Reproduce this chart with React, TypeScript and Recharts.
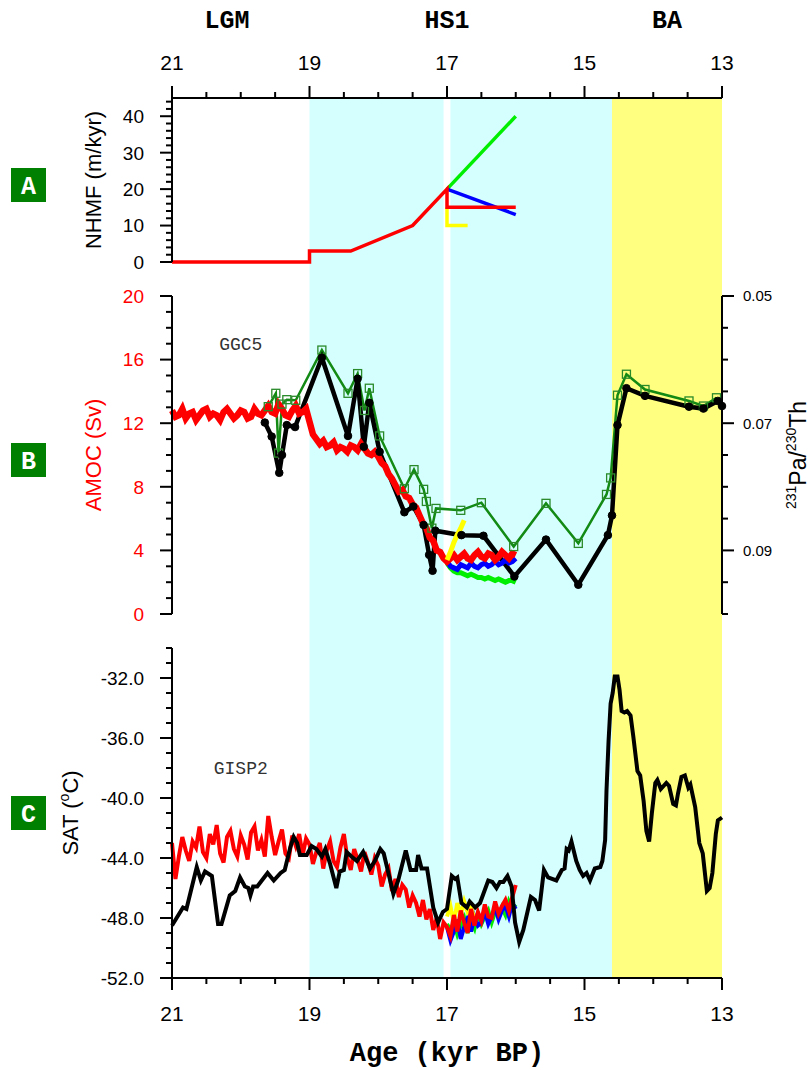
import React from 'react'
import { ComposedChart, Line, XAxis, YAxis, ReferenceArea, ReferenceDot } from 'recharts'

// age axis (kyr BP), shared by all panels
const ageTicks = [21, 19, 17, 15, 13]
const periodNames = ['LGM', 'HS1', 'BA']
const periodCenters = [20.2, 17.0, 13.8]
const bandStart = [19, 16.95, 14.6]
const bandEnd = [17.05, 14.6, 13]

// A: NH meltwater forcing (m/kyr)
const nhmfTicks = [0, 10, 20, 30, 40]
const nhmfRedAge = [21, 19, 19, 18.4, 17.5, 17, 17, 16]
const nhmfRed = [0, 0, 3, 3, 10, 20, 15, 15]
const nhmfGreenAge = [17, 16]
const nhmfGreen = [20, 40]
const nhmfBlueAge = [17, 16]
const nhmfBlue = [20, 13]
const nhmfYellowAge = [17, 17, 16.7]
const nhmfYellow = [15, 10, 10]

// B: AMOC (Sv), model output every 0.05 kyr
const amocTicks = [0, 4, 8, 12, 16, 20]
const amocRed = [
  12.8, 12.4, 12.5, 12.9, 12.3, 12.6, 12.7, 12.2, 12.5, 12.8,
  12.9, 12.4, 12.6, 12.5, 12.2, 12.7, 12.9, 12.6, 12.3, 12.5,
  12.8, 12.7, 12.3, 12.4, 12.9, 12.6, 12.5, 12.8, 13.1, 12.7,
  12.6, 13.2, 12.9, 12.5, 12.4, 12.8, 13.1, 12.6, 12.7, 12.9,
  12.1, 11.3, 11.0, 10.7, 10.9, 10.5, 10.6, 10.8, 10.3, 10.5,
  10.4, 10.2, 10.6, 10.5, 10.3, 10.7, 10.4, 10.1, 10.0, 10.2,
  9.9, 9.5, 9.3, 8.8, 8.5, 8.1, 7.7, 7.8, 7.4, 7.3,
  6.9, 6.7, 6.2, 5.7, 5.4, 4.8, 4.6, 4.0, 3.9, 3.5,
  3.3, 3.5, 3.7, 3.4, 3.6, 3.8, 3.5, 3.4, 3.7, 3.9,
  3.6, 3.5, 3.8, 3.7, 3.4, 3.6, 3.9, 3.7, 3.5, 3.8, 3.7,
]
const amocBlue = [3.3, 3.0, 2.9, 2.8, 3.1, 3.0, 2.9, 3.2, 3.0, 2.9, 3.1, 3.2, 3.0, 3.1, 3.3, 3.1, 3.2, 3.4, 3.2, 3.3, 3.5]
const amocGreen = [3.2, 2.9, 2.7, 2.6, 2.6, 2.5, 2.4, 2.5, 2.4, 2.3, 2.3, 2.2, 2.3, 2.2, 2.1, 2.2, 2.1, 2.0, 2.1, 2.1, 2.0]
const amocYellow = [3.4, 3.9, 4.5, 5.0, 5.4, 5.9]

// B: GGC5 231Pa/230Th
const pathTicks = [0.05, 0.07, 0.09]
const ggc5BlackAge = [
  19.65, 19.55, 19.44, 19.4, 19.33, 19.21, 18.82, 18.44, 18.3, 18.21, 18.13, 17.98,
  17.62, 17.49, 17.34, 17.26, 17.21, 17.17, 16.79, 16.47, 16.02, 15.56, 15.09, 14.66,
  14.6, 14.52, 14.39, 14.12, 13.48, 13.27, 13.06, 13.0,
]
const ggc5Black = [
  0.0699, 0.0721, 0.0778, 0.075, 0.0703, 0.0706, 0.0597, 0.072, 0.063, 0.0737, 0.0668, 0.0745,
  0.084, 0.0831, 0.086, 0.0907, 0.0932, 0.0869, 0.0876, 0.0877, 0.0941, 0.0883, 0.0954, 0.0876,
  0.0845, 0.0703, 0.0645, 0.0657, 0.0674, 0.0677, 0.0665, 0.0673,
]
const ggc5GreenAge = [
  19.6, 19.49, 19.45, 19.4, 19.33, 19.2, 18.82, 18.44, 18.3, 18.2, 18.13, 17.98,
  17.62, 17.48, 17.34, 17.3, 17.22, 17.16, 16.8, 16.5, 16.03, 15.56, 15.09, 14.68,
  14.62, 14.52, 14.39, 14.12, 13.48, 13.27, 13.08,
]
const ggc5Green = [
  0.0674, 0.0653, 0.0747, 0.067, 0.0663, 0.0664, 0.0585, 0.0653, 0.0622, 0.068, 0.0645, 0.072,
  0.0803, 0.0773, 0.0804, 0.0823, 0.0865, 0.0834, 0.0837, 0.0825, 0.0894, 0.0826, 0.0889, 0.0812,
  0.0786, 0.0656, 0.0623, 0.0647, 0.0665, 0.0673, 0.066,
]

// C: Greenland SAT (degC), model every 0.05 kyr
const satTicks = [-52, -48, -44, -40, -36, -32]
const satRed = [
  -43.0, -45.4, -43.9, -42.6, -43.5, -44.2, -42.9, -43.3, -41.9, -43.6,
  -44.0, -42.4, -43.1, -41.8, -43.7, -44.3, -42.6, -42.2, -43.4, -43.9,
  -42.5, -43.1, -44.1, -42.3, -41.9, -43.5, -42.8, -43.9, -41.2, -42.6,
  -43.8, -42.9, -42.1, -43.7, -44.0, -42.5, -43.2, -42.4, -43.8, -42.7,
  -43.1, -44.4, -43.6, -43.0, -44.7, -43.5, -42.9, -44.2, -44.6, -43.3,
  -42.4, -44.0, -44.8, -43.4, -44.1, -44.9, -43.6, -44.3, -45.1, -44.0,
  -44.5, -45.9, -45.1, -44.7, -46.2, -45.4, -46.6, -45.8, -46.1, -47.3,
  -46.5, -47.0, -47.9, -46.8, -48.1, -47.4, -48.8, -48.0, -49.4, -48.3,
  -48.6, -49.2, -47.8, -48.9, -47.5, -48.3, -49.0, -47.4, -48.5, -47.6,
  -48.2, -47.1, -47.9, -48.0, -46.9, -47.7, -47.2, -46.8, -47.5, -46.6, -45.8,
]
const satBlue = [-48.6, -49.5, -48.9, -48.1, -49.4, -48.6, -48.0, -48.9, -47.9, -48.5, -48.3, -47.6, -48.4, -47.9, -47.3, -48.1, -47.5, -47.2, -47.9, -47.0, -47.4]
const satGreen = [-48.4, -48.8, -48.3, -49.1, -48.5, -48.0, -49.0, -48.2, -48.7, -47.7, -48.4, -47.9, -47.5, -48.3, -47.6, -47.9, -47.3, -47.8, -46.9, -47.4, -47.1]
const satYellow = [-47.9, -47.2, -48.3, -47.0, -47.8, -46.9, -47.6, -47.3, -48.0]

// C: GISP2
const gisp2Age = [
  21.0, 20.84, 20.79, 20.64, 20.58, 20.52, 20.42, 20.33, 20.28, 20.16,
  20.08, 20.01, 19.94, 19.89, 19.86, 19.82, 19.76, 19.61, 19.52, 19.42,
  19.36, 19.28, 19.23, 19.18, 19.14, 19.04, 18.97, 18.9, 18.82, 18.77,
  18.7, 18.61, 18.56, 18.5, 18.46, 18.39, 18.31, 18.22, 18.12, 18.05,
  17.97, 17.92, 17.78, 17.71, 17.6, 17.53, 17.45, 17.42, 17.37, 17.29,
  17.2, 17.13, 17.06, 17.0, 16.93, 16.88, 16.85, 16.79, 16.71, 16.67,
  16.59, 16.52, 16.4, 16.34, 16.28, 16.23, 16.18, 16.12, 16.06, 16.01,
  15.95, 15.89, 15.78, 15.72, 15.66, 15.59, 15.53, 15.41, 15.33, 15.29,
  15.26, 15.23, 15.19, 15.12, 15.07, 15.02, 14.97, 14.92, 14.85, 14.77,
  14.74, 14.7, 14.68, 14.65, 14.62, 14.59, 14.56, 14.52, 14.49, 14.46,
  14.42, 14.38, 14.33, 14.29, 14.23, 14.19, 14.14, 14.1, 14.06, 14.02,
  13.97, 13.94, 13.89, 13.81, 13.77, 13.71, 13.67, 13.64, 13.59, 13.54,
  13.49, 13.46, 13.39, 13.33, 13.28, 13.22, 13.18, 13.14, 13.09, 13.06,
  13.0,
]
const gisp2 = [
  -48.5, -47.3, -47.4, -44.6, -45.5, -44.9, -45.2, -48.4, -48.4, -46.5,
  -46.2, -45.3, -45.9, -46.0, -46.5, -45.9, -45.9, -45.0, -45.5, -45.0,
  -44.8, -43.3, -42.6, -43.0, -43.8, -43.8, -43.2, -43.4, -43.9, -43.4,
  -44.4, -46.0, -44.9, -44.8, -43.6, -43.9, -44.2, -43.6, -44.7, -44.2,
  -43.4, -43.7, -46.4, -45.5, -43.5, -44.8, -44.8, -43.8, -44.7, -44.7,
  -47.3, -48.3, -47.6, -47.4, -45.2, -45.4, -45.3, -47.0, -47.3, -46.9,
  -47.3, -47.0, -45.5, -45.6, -46.0, -45.6, -45.6, -45.2, -45.9, -48.3,
  -49.6, -48.8, -46.6, -46.8, -47.5, -44.8, -45.3, -45.5, -44.8, -44.7,
  -43.4, -43.5, -42.9, -44.2, -44.8, -45.2, -45.0, -45.5, -44.7, -44.6,
  -44.2, -42.8, -39.5, -36.2, -33.7, -33.0, -31.9, -31.9, -32.8, -34.2,
  -34.3, -34.2, -34.5, -35.9, -38.2, -38.5, -40.2, -42.2, -42.9, -41.0,
  -39.0, -38.8, -39.4, -39.0, -39.2, -40.4, -40.5, -39.7, -38.6, -38.5,
  -39.3, -39.1, -40.6, -43.0, -43.7, -46.2, -46.0, -45.0, -42.4, -41.5,
  -41.3,
]

const W = 811
const H = 1070
const PLOT_R = 722
const A_TOP = 98
const A_BOT = 262
const B_TOP = 296
const B_BOT = 614
const C_TOP = 648
const C_BOT = 978

const sans = 'Liberation Sans, Arial, Helvetica, sans-serif'
const mono = "'Courier New', 'Liberation Mono', monospace"
const CYAN = '#d5ffff'
const YELLOW = '#ffff80'

const pairs = (ages: number[], vals: number[]) => ages.map((a, i) => ({ age: a, v: vals[i] }))
// model time axis: one value per 0.05 kyr starting at `start`
const every50yr = (start: number, vals: number[]) => vals.map((v, i) => ({ age: +(start - i * 0.05).toFixed(3), v }))
const steps = (lo: number, hi: number, step: number) => {
  const out: number[] = []
  const n = Math.round((hi - lo) / step)
  for (let i = 0; i <= n; i++) out.push(+(lo + i * step).toFixed(4))
  return out
}

type Side = 'left' | 'right' | 'top' | 'bottom'

function makeTick(side: Side, majors: number[], fmt: (v: number) => string, color = '#000', size = 19) {
  return (props: any) => {
    const { x, y, payload } = props
    const v = Number(payload.value)
    const major = majors.some(m => Math.abs(m - v) < 1e-6)
    const len = major ? 12 : 6
    let x2 = x
    let y2 = y
    let tx = x
    let ty = y
    let anchor: 'start' | 'middle' | 'end' = 'middle'
    let dy = '0'
    if (side === 'left') { x2 = x - len; tx = x - 28; anchor = 'end'; dy = '0.36em' }
    if (side === 'right') { x2 = x + len; tx = x + 21; anchor = 'start'; dy = '0.36em' }
    if (side === 'top') { y2 = y - len; ty = y - 28 }
    if (side === 'bottom') { y2 = y + len; ty = y + 43 }
    return (
      <g>
        <line x1={x} y1={y} x2={x2} y2={y2} stroke="#000" strokeWidth={2} />
        {major && (
          <text x={tx} y={ty} dy={dy} textAnchor={anchor} fill={color} fontSize={size} fontFamily={sans}>
            {fmt(v)}
          </text>
        )}
      </g>
    )
  }
}

const periodTick = (props: any) => (
  <text x={props.x} y={props.y - 70} textAnchor="middle" fontSize={25} fontWeight="bold" fontFamily={mono} fill="#000">
    {periodNames[props.index]}
  </text>
)

// rotated axis title plus the green panel letter
function panelTitle(title: React.ReactNode, letter: string, baseX: number, boxShift: number, color: string) {
  return (props: any) => {
    const { y, height } = props.viewBox
    const cy = y + height / 2
    return (
      <g>
        <text transform={`translate(${baseX},${cy}) rotate(-90)`} textAnchor="middle" fill={color} fontSize={22} fontFamily={sans}>
          {title}
        </text>
        <rect x={11} y={cy + boxShift - 17} width={35} height={34} fill="#008000" />
        <text x={28.5} y={cy + boxShift} dy="0.36em" textAnchor="middle" fill="#fff" fontSize={25} fontWeight="bold" fontFamily={mono}>
          {letter}
        </text>
      </g>
    )
  }
}

const pathTitle = (props: any) => {
  const { y, height } = props.viewBox
  const cy = y + height / 2
  return (
    <text transform={`translate(806,${cy}) rotate(-90)`} textAnchor="middle" fill="#000" fontSize={23} fontFamily={sans}>
      <tspan fontSize={14} dy={-10}>231</tspan>
      <tspan dy={10}>Pa/</tspan>
      <tspan fontSize={14} dy={-10}>230</tspan>
      <tspan dy={10}>Th</tspan>
    </text>
  )
}

const ageTitle = (props: any) => {
  const { x, y, width } = props.viewBox
  return (
    <text x={x + width / 2} y={y + 83} textAnchor="middle" fontSize={27} fontWeight="bold" fontFamily={mono} fill="#000">
      Age (kyr BP)
    </text>
  )
}

const square = (props: any) => {
  const { cx, cy, index } = props
  return <rect key={`sq-${index}`} x={cx - 4} y={cy - 4} width={8} height={8} fill="none" stroke="#2a8a2a" strokeWidth={1.3} />
}

const axisLine = { stroke: '#000', strokeWidth: 2 }
const xTicks = steps(13, 21, 0.5)
const periods = periodCenters.map((age, i) => ({ age, name: periodNames[i] }))

const layer: React.CSSProperties = { position: 'absolute', left: 0, top: 0 }

export default function App() {
  return (
    <div style={{ position: 'absolute', left: 0, top: 0, width: W, height: H, background: '#fff' }}>
      {/* shaded periods behind all three panels */}
      <div style={layer}>
        <ComposedChart width={W} height={H} data={periods} margin={{ top: 0, left: 172, right: W - PLOT_R, bottom: H - C_BOT }}>
          <XAxis
            type="number"
            dataKey="age"
            orientation="top"
            domain={[13, 21]}
            allowDataOverflow
            reversed
            ticks={periodCenters}
            interval={0}
            height={A_TOP}
            axisLine={false}
            tickLine={false}
            tickSize={0}
            tickMargin={0}
            tick={periodTick}
          />
          <YAxis hide type="number" domain={[0, 1]} allowDataOverflow />
          {bandStart.map((s, i) => (
            <ReferenceArea
              key={i}
              x1={s}
              x2={bandEnd[i]}
              y1={0}
              y2={1}
              fill={i === 2 ? YELLOW : CYAN}
              fillOpacity={1}
              stroke="none"
              ifOverflow="visible"
            />
          ))}
          <Line dataKey="age" stroke="none" dot={false} isAnimationActive={false} />
        </ComposedChart>
      </div>

      {/* A: NHMF */}
      <div style={layer}>
        <ComposedChart width={W} height={H} margin={{ top: 0, left: 0, right: W - PLOT_R, bottom: H - A_BOT }}>
          <XAxis
            type="number"
            dataKey="age"
            orientation="top"
            domain={[13, 21]}
            reversed
            ticks={xTicks}
            interval={0}
            height={A_TOP}
            axisLine={axisLine}
            tickLine={false}
            tickSize={0}
            tickMargin={0}
            tick={makeTick('top', ageTicks, v => String(v), '#000', 21)}
          />
          <YAxis
            type="number"
            domain={[0, 45]}
            ticks={steps(0, 44, 2)}
            interval={0}
            width={172}
            axisLine={axisLine}
            tickLine={false}
            tickSize={0}
            tickMargin={0}
            tick={makeTick('left', nhmfTicks, v => String(v))}
            label={panelTitle('NHMF (m/kyr)', 'A', 101, 5, '#000')}
          />
          <Line data={pairs(nhmfGreenAge, nhmfGreen)} dataKey="v" stroke="#00ee00" strokeWidth={3.5} dot={false} isAnimationActive={false} />
          <Line data={pairs(nhmfBlueAge, nhmfBlue)} dataKey="v" stroke="#0000ff" strokeWidth={3.5} dot={false} isAnimationActive={false} />
          <Line data={pairs(nhmfYellowAge, nhmfYellow)} dataKey="v" stroke="#ffff00" strokeWidth={3.5} dot={false} isAnimationActive={false} />
          <Line data={pairs(nhmfRedAge, nhmfRed)} dataKey="v" stroke="#ff0000" strokeWidth={3.5} dot={false} isAnimationActive={false} />
        </ComposedChart>
      </div>

      {/* B: AMOC and GGC5 Pa/Th */}
      <div style={layer}>
        <ComposedChart width={W} height={H} margin={{ top: B_TOP, left: 0, right: 0, bottom: H - B_BOT }}>
          <XAxis type="number" dataKey="age" domain={[13, 21]} reversed hide />
          <YAxis
            yAxisId="amoc"
            type="number"
            domain={[0, 20]}
            ticks={steps(0, 20, 1)}
            interval={0}
            width={172}
            axisLine={axisLine}
            tickLine={false}
            tickSize={0}
            tickMargin={0}
            tick={makeTick('left', amocTicks, v => String(v), '#ff0000')}
            label={panelTitle('AMOC (Sv)', 'B', 101, 5, '#ff0000')}
          />
          <YAxis
            yAxisId="path"
            orientation="right"
            type="number"
            domain={[0.05, 0.1]}
            reversed
            ticks={steps(0.05, 0.1, 0.005)}
            interval={0}
            width={W - PLOT_R}
            axisLine={axisLine}
            tickLine={false}
            tickSize={0}
            tickMargin={0}
            tick={makeTick('right', pathTicks, v => v.toFixed(2), '#000', 15)}
            label={pathTitle}
          />
          <ReferenceDot
            yAxisId="amoc"
            x={20.0}
            y={17.0}
            r={1}
            fill="none"
            stroke="none"
            label={{ value: 'GGC5', position: 'center', fill: '#333', fontSize: 18, fontFamily: mono }}
          />
          <Line yAxisId="path" data={pairs(ggc5GreenAge, ggc5Green)} dataKey="v" stroke="#138a13" strokeWidth={2.5} dot={square} isAnimationActive={false} />
          <Line yAxisId="path" data={pairs(ggc5BlackAge, ggc5Black)} dataKey="v" stroke="#000" strokeWidth={4.5} dot={{ r: 3.8, fill: '#000', stroke: '#000', strokeWidth: 1 }} isAnimationActive={false} />
          <Line yAxisId="amoc" data={every50yr(17, amocGreen)} dataKey="v" stroke="#00ee00" strokeWidth={5} dot={false} isAnimationActive={false} />
          <Line yAxisId="amoc" data={every50yr(17, amocBlue)} dataKey="v" stroke="#0000ff" strokeWidth={5} dot={false} isAnimationActive={false} />
          <Line yAxisId="amoc" data={every50yr(21, amocRed)} dataKey="v" stroke="#ff0000" strokeWidth={6.5} dot={false} isAnimationActive={false} />
          <Line yAxisId="amoc" data={every50yr(17, amocYellow)} dataKey="v" stroke="#ffff00" strokeWidth={5} dot={false} isAnimationActive={false} />
        </ComposedChart>
      </div>

      {/* C: SAT and GISP2 */}
      <div style={layer}>
        <ComposedChart width={W} height={H} margin={{ top: C_TOP, left: 0, right: W - PLOT_R, bottom: 0 }}>
          <XAxis
            type="number"
            dataKey="age"
            domain={[13, 21]}
            reversed
            ticks={xTicks}
            interval={0}
            height={H - C_BOT}
            axisLine={axisLine}
            tickLine={false}
            tickSize={0}
            tickMargin={0}
            tick={makeTick('bottom', ageTicks, v => String(v), '#000', 21)}
            label={ageTitle}
          />
          <YAxis
            type="number"
            domain={[-52, -30]}
            ticks={steps(-52, -30, 1)}
            interval={0}
            width={172}
            axisLine={axisLine}
            tickLine={false}
            tickSize={0}
            tickMargin={0}
            tick={makeTick('left', satTicks, v => v.toFixed(1))}
            label={panelTitle(
              <>
                SAT (<tspan fontSize={14} dy={-9}>o</tspan>
                <tspan dy={9}>C)</tspan>
              </>,
              'C',
              78,
              0,
              '#000',
            )}
          />
          <ReferenceDot
            x={20.0}
            y={-38.0}
            r={1}
            fill="none"
            stroke="none"
            label={{ value: 'GISP2', position: 'center', fill: '#333', fontSize: 18, fontFamily: mono }}
          />
          <Line data={every50yr(17, satGreen)} dataKey="v" stroke="#00ee00" strokeWidth={4} dot={false} isAnimationActive={false} />
          <Line data={every50yr(17, satBlue)} dataKey="v" stroke="#0000ff" strokeWidth={4} dot={false} isAnimationActive={false} />
          <Line data={every50yr(17, satYellow)} dataKey="v" stroke="#ffff00" strokeWidth={4} dot={false} isAnimationActive={false} />
          <Line data={every50yr(21, satRed)} dataKey="v" stroke="#ff0000" strokeWidth={4} dot={false} isAnimationActive={false} />
          <Line data={pairs(gisp2Age, gisp2)} dataKey="v" stroke="#000" strokeWidth={4} dot={false} isAnimationActive={false} />
        </ComposedChart>
      </div>
    </div>
  )
}
